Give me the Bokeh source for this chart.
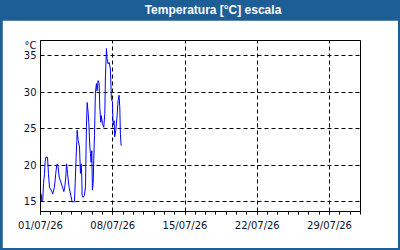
from bokeh.plotting import figure
from bokeh.models import Range1d, FixedTicker, Div, ColumnDataSource
from bokeh.layouts import column
from bokeh.embed import file_html
from bokeh.resources import INLINE

TITLE = "Temperatura [°C] escala"
UNIT = "°C"

# time in days since 01/07/26 00:00
days = [0.06, 0.13, 0.22, 0.29, 0.39, 0.45, 0.52, 0.68, 0.77, 0.87, 1.03, 1.19, 1.35,
        1.48, 1.58, 1.68, 1.81, 1.97, 2.13, 2.26, 2.35, 2.45, 2.53, 2.62, 2.77, 2.94,
        3.06, 3.29, 3.36, 3.45, 3.52, 3.55, 3.65, 3.78, 3.87, 3.94, 4.00, 4.03, 4.13,
        4.26, 4.36, 4.45, 4.52, 4.61, 4.68, 4.78, 4.84, 4.90, 4.97, 5.03, 5.10, 5.16,
        5.23, 5.32, 5.42, 5.48, 5.58, 5.68, 5.74, 5.84, 5.90, 6.00, 6.13, 6.23, 6.29,
        6.39, 6.45, 6.55, 6.65, 6.77, 6.87, 6.97, 7.03, 7.13, 7.19, 7.29, 7.42, 7.52,
        7.61, 7.68, 7.74, 7.81]
temps = [16.1, 15.1, 15.3, 17.5, 18.9, 20.5, 21.1, 21.1, 18.9, 17.0, 16.6, 16.1, 17.0,
         18.9, 20.1, 20.1, 18.4, 17.7, 17.0, 16.4, 17.0, 18.4, 20.2, 18.9, 17.0, 15.9,
         15.0, 15.0, 17.5, 21.1, 23.4, 24.8, 23.4, 22.5, 18.9, 20.2, 18.4, 15.9, 15.6,
         15.9, 17.1, 25.3, 28.6, 27.3, 25.9, 22.5, 21.6, 20.4, 22.0, 16.6, 17.5, 20.7,
         24.1, 30.0, 31.2, 30.2, 31.6, 31.2, 28.0, 25.9, 26.8, 25.7, 25.2, 27.1, 32.1,
         36.0, 34.6, 33.9, 34.1, 33.2, 29.1, 28.7, 25.5, 26.1, 23.9, 24.8, 26.8, 28.9,
         29.6, 28.0, 24.3, 22.7]

X_START, X_END = 0, 31
Y_MIN, Y_MAX = 13.67, 37.1
x_tick_days = [0, 7, 14, 21, 28]
x_tick_labels = ["01/07/26", "08/07/26", "15/07/26", "22/07/26", "29/07/26"]
y_ticks = [15, 20, 25, 30, 35]

BLUE = "#1e5e96"
TXT = "#101030"

p = figure(width=396, height=228, output_backend="svg", toolbar_location=None,
           x_range=Range1d(X_START, X_END), y_range=Range1d(Y_MIN, Y_MAX),
           min_border_left=38, min_border_right=38, min_border_top=20,
           min_border_bottom=37, margin=(0, 2, 2, 2),
           background_fill_color="white", border_fill_color="white")
p.outline_line_color = "black"
p.outline_line_width = 1

src = ColumnDataSource(dict(x=days, y=temps))
p.line("x", "y", source=src, line_color="#0000ff", line_width=1)

p.xaxis.ticker = FixedTicker(ticks=x_tick_days, minor_ticks=list(range(X_START, X_END + 1)))
p.xaxis.major_label_overrides = {d: l for d, l in zip(x_tick_days, x_tick_labels)}

# unit label sits just under the top of the frame, above the highest tick label
unit_pos = Y_MAX - 0.75
p.yaxis.ticker = FixedTicker(ticks=y_ticks + [unit_pos], minor_ticks=[])
p.yaxis.major_label_overrides = {unit_pos: UNIT}
p.ygrid.ticker = FixedTicker(ticks=y_ticks, minor_ticks=[])
p.xgrid.ticker = FixedTicker(ticks=x_tick_days, minor_ticks=[])

for ax in (p.xaxis[0], p.yaxis[0]):
    ax.axis_line_color = "black"
    ax.major_tick_line_color = "black"
    ax.minor_tick_line_color = "black"
    ax.major_label_text_font = "DejaVu Sans"
    ax.major_label_text_font_size = "10px"
    ax.major_label_text_color = TXT

p.xaxis.major_tick_out = 3
p.xaxis.major_tick_in = 0
p.xaxis.minor_tick_out = 3
p.xaxis.minor_tick_in = 0
p.xaxis.major_label_standoff = 5

p.yaxis.major_tick_out = 0
p.yaxis.major_tick_in = 0
p.yaxis.minor_tick_out = 0
p.yaxis.minor_tick_in = 0
p.yaxis.major_label_standoff = 4

for g in (p.xgrid[0], p.ygrid[0]):
    g.grid_line_color = "black"
    g.grid_line_dash = "4 3"
    g.grid_line_width = 1

title = Div(text=TITLE, width=374, height=20, margin=(0, 0, 0, 26),
            styles={"color": "white", "font-weight": "bold",
                    "font-family": "'Liberation Sans', Arial, sans-serif",
                    "font-size": "12px", "text-align": "center",
                    "line-height": "20px"})

layout = column(title, p, width=400, height=250, spacing=0,
                styles={"background-color": BLUE})

open("out.html", "w").write(file_html(layout, INLINE))
